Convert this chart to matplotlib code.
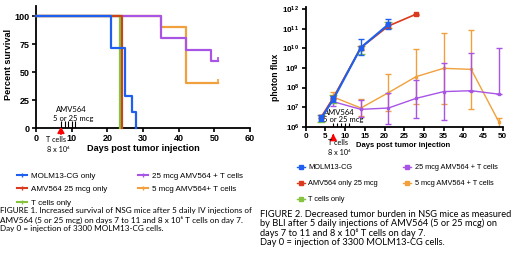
import matplotlib
matplotlib.use('Agg')
import matplotlib.pyplot as plt
from matplotlib.lines import Line2D
from matplotlib.ticker import NullLocator
from matplotlib.transforms import blended_transform_factory

plt.rcParams['font.family'] = ['Liberation Sans', 'DejaVu Sans']
plt.rcParams['mathtext.fontset'] = 'custom'
plt.rcParams['mathtext.rm'] = 'Liberation Sans'
plt.rcParams['mathtext.bf'] = 'Liberation Sans:bold'

# ---------------- Figure 1: survival data ----------------
surv_blue_days = [0, 21, 25, 27, 28]
surv_blue_pct = [100, 71.4, 28.6, 14.3, 0]
surv_red_days = [0, 24]
surv_red_pct = [100, 0]
surv_green_days = [0, 23.6]
surv_green_pct = [100, 0]
surv_purple_days = [0, 35, 42, 49, 51]
surv_purple_pct = [100, 80, 70, 60, 60]
surv_orange_days = [0, 35, 42, 51]
surv_orange_pct = [100, 90, 40, 40]
surv_xticks = [0, 10, 20, 30, 40, 50, 60]
surv_yticks = [0, 25, 50, 75, 100]

# ---------------- Figure 2: BLI data ----------------
bli_blue_days = [4, 7, 14, 21]
bli_blue = [2.8e6, 2.5e7, 1.1e10, 1.7e11]
bli_blue_lo = [1.9e6, 1.8e7, 4.6e9, 9.5e10]
bli_blue_hi = [4.0e6, 3.5e7, 3.0e10, 3.2e11]

bli_red_days = [4, 7, 14, 21, 28]
bli_red = [3.3e6, 3.0e7, 1.1e10, 1.4e11, 5.6e11]
bli_red_lo = [2.8e6, 2.5e7, 8.0e9, 1.1e11, 5.0e11]
bli_red_hi = [4.0e6, 3.6e7, 1.4e10, 1.8e11, 6.0e11]

bli_green_days = [4, 7, 14, 21]
bli_green = [2.6e6, 2.9e7, 1.1e10, 1.5e11]
bli_green_lo = [1.8e6, 1.6e7, 5.2e9, 1.1e11]
bli_green_hi = [3.8e6, 4.0e7, 1.4e10, 2.2e11]

bli_tx_days = [7, 14, 21, 28, 35, 42, 49]
bli_orange = [3.3e7, 9.0e6, 5.5e7, 3.6e8, 9.6e8, 8.5e8, 1.8e6]
bli_orange_lo = [1.8e7, 3.5e6, 6.0e6, 1.4e7, 1.5e7, 8.3e6, 8.0e5]
bli_orange_hi = [5.9e7, 2.5e7, 4.8e8, 9.4e9, 6.3e10, 8.7e10, 2.7e6]

bli_purple = [1.9e7, 7.7e6, 9.0e6, 2.8e7, 6.2e7, 6.9e7, 4.6e7]
bli_purple_lo = [1.2e7, 3.0e6, 1.4e6, 2.7e6, 2.2e6, 6.9e7, 4.6e7]
bli_purple_hi = [3.0e7, 2.3e7, 5.5e7, 2.5e8, 1.7e9, 6.0e9, 1.1e10]

bli_xticks = [0, 5, 10, 15, 20, 25, 30, 35, 40, 45, 50]
bli_yexp = [6, 7, 8, 9, 10, 11, 12]

injection_days = [7, 8, 9, 10, 11]
tcell_day = 7

surv_labels = ['MOLM13-CG only', 'AMV564 25 mcg only', 'T cells only',
               '25 mcg AMV564 + T cells', '5 mcg AMV564+ T cells']
bli_labels = ['MOLM13-CG', 'AMV564 only 25 mcg', 'T cells only',
              '25 mcg AMV564 + T cells', '5 mcg AMV564 + T cells']

cap1 = ['FIGURE 1. Increased survival of NSG mice after 5 daily IV injections of',
        'AMV564 (5 or 25 mcg) on days 7 to 11 and 8 x 10\u2076 T cells on day 7.',
        'Day 0 = injection of 3300 MOLM13-CG cells.']
cap2 = ['FIGURE 2. Decreased tumor burden in NSG mice as measured',
        'by BLI after 5 daily injections of AMV564 (5 or 25 mcg) on',
        'days 7 to 11 and 8 x 10\u2076 T cells on day 7.',
        'Day 0 = injection of 3300 MOLM13-CG cells.']

C_BLUE = '#1f5ff0'
C_RED = '#dc3a1e'
C_GREEN = '#86c440'
C_PURPLE = '#a855e6'
C_ORANGE = '#f0a03c'

W, H = 520, 256
fig = plt.figure(figsize=(5.2, 2.56), dpi=100)


def fx(x):
    return x / W


def fy(y):
    return 1 - y / H


CAPFONT = ['Lato', 'DejaVu Sans']

# ---------------- left axes ----------------
ax1 = fig.add_axes([fx(36), fy(128), (250 - 36) / W, (128 - 6) / H])
ax1.set_xlim(0, 60)
ax1.set_ylim(0, 109)
lw = 1.6
ax1.step(surv_orange_days, surv_orange_pct, where='post', color=C_ORANGE, lw=lw, clip_on=False, zorder=2)
ax1.step(surv_purple_days, surv_purple_pct, where='post', color=C_PURPLE, lw=lw, clip_on=False, zorder=3)
ax1.step(surv_green_days, surv_green_pct, where='post', color=C_GREEN, lw=lw, clip_on=False, zorder=4)
ax1.step(surv_red_days, surv_red_pct, where='post', color='#c8461a', lw=lw, clip_on=False, zorder=5)
ax1.step(surv_blue_days, surv_blue_pct, where='post', color=C_BLUE, lw=lw, clip_on=False, zorder=6)
ax1.plot(surv_purple_days[-1:], surv_purple_pct[-1:], marker=2, ms=3, mew=1.2, color=C_PURPLE, clip_on=False)
ax1.plot(surv_orange_days[-1:], surv_orange_pct[-1:], marker=2, ms=3, mew=1.2, color=C_ORANGE, clip_on=False)

ax1.set_xticks(surv_xticks)
ax1.set_yticks(surv_yticks)
for s in ['top', 'right']:
    ax1.spines[s].set_visible(False)
for s in ['left', 'bottom']:
    ax1.spines[s].set_linewidth(1.3)
ax1.tick_params(direction='out', length=3, width=1.2, labelsize=6.5, pad=1.5)
for t in ax1.get_xticklabels() + ax1.get_yticklabels():
    t.set_fontweight('bold')

ax1.vlines(injection_days, 0, 6, color='k', lw=0.8, zorder=7)
ax1.text(9.8, 16.5, 'AMV564', ha='center', va='center', fontsize=5.5, family=CAPFONT)
ax1.text(10.5, 8.3, '5 or 25 mcg', ha='center', va='center', fontsize=5.5, family=CAPFONT)
tr1 = blended_transform_factory(ax1.transData, ax1.transAxes)
ax1.annotate('', xy=(tcell_day, 4 / 122), xycoords=tr1,
             xytext=(tcell_day, -9 / 122), textcoords=tr1,
             arrowprops=dict(arrowstyle='-|>,head_length=0.35,head_width=0.2', color='red', lw=1.2),
             annotation_clip=False)

# ---------------- right axes ----------------
ax2 = fig.add_axes([fx(305.7), fy(126.7), (502.7 - 305.7) / W, (126.7 - 7.3) / H])
ax2.set_yscale('log')
ax2.set_xlim(0, 50)
ax2.set_ylim(1e6, 1.26e12)


def eb(days, v, lo, hi, color, lw_, z, ms=2.5, cs=2.2):
    yerr = [[a - b for a, b in zip(v, lo)], [b - a for a, b in zip(v, hi)]]
    ax2.errorbar(days, v, yerr=yerr, fmt='-s', color=color, lw=lw_, ms=ms,
                 elinewidth=1.0, capsize=cs, capthick=1.0, zorder=z)


eb(bli_tx_days, bli_orange, bli_orange_lo, bli_orange_hi, C_ORANGE, 1.0, 2, ms=1.8)
eb(bli_tx_days, bli_purple, bli_purple_lo, bli_purple_hi, C_PURPLE, 1.0, 3, ms=1.8)
eb(bli_green_days, bli_green, bli_green_lo, bli_green_hi, C_GREEN, 1.2, 4, ms=3, cs=3)
eb(bli_red_days, bli_red, bli_red_lo, bli_red_hi, C_RED, 1.2, 5)
eb(bli_blue_days, bli_blue, bli_blue_lo, bli_blue_hi, C_BLUE, 1.5, 6)

ax2.set_xticks(bli_xticks)
ax2.set_yticks([10.0 ** e for e in bli_yexp])
ax2.set_yticklabels([r'$\mathbf{10^{%d}}$' % e for e in bli_yexp])
ax2.yaxis.set_minor_locator(NullLocator())
for s in ['top', 'right']:
    ax2.spines[s].set_visible(False)
for s in ['left', 'bottom']:
    ax2.spines[s].set_linewidth(1.3)
ax2.tick_params(direction='out', length=3, width=1.2, labelsize=5.8, pad=1.5)
for t in ax2.get_xticklabels():
    t.set_fontweight('bold')

ax2.vlines(injection_days, 1e6, 1.5e6, color='k', lw=0.8, zorder=7)
ax2.text(8.4, 10 ** 6.75, 'AMV564', ha='center', va='center', fontsize=5.5, family=CAPFONT)
ax2.text(9.6, 10 ** 6.39, '5 or 25 mcg', ha='center', va='center', fontsize=5.5, family=CAPFONT)
tr2 = blended_transform_factory(ax2.transData, ax2.transAxes)
ax2.annotate('', xy=(tcell_day, -4.5 / 119.4), xycoords=tr2,
             xytext=(tcell_day, -12.5 / 119.4), textcoords=tr2,
             arrowprops=dict(arrowstyle='-|>,head_length=0.35,head_width=0.2', color='red', lw=1.2),
             annotation_clip=False)

# ---------------- labels ----------------
fig.text(fx(8.5), fy(64), 'Percent survival', rotation=90, ha='center', va='center', fontsize=6.6, fontweight='bold')
fig.text(fx(143), fy(148.5), 'Days post tumor injection', ha='center', va='center', fontsize=6.6, fontweight='bold')
fig.text(fx(275), fy(77), 'photon flux', rotation=90, ha='center', va='center', fontsize=6.2, fontweight='bold')
fig.text(fx(403), fy(145.5), 'Days post tumor injection', ha='center', va='center', fontsize=5.5, fontweight='bold')

fig.text(fx(56.5), fy(140), 'T cells', ha='center', va='center', fontsize=5.2, family=CAPFONT)
fig.text(fx(58.3), fy(149), '8 x 10\u2076', ha='center', va='center', fontsize=5.2, family=CAPFONT)
fig.text(fx(337.7), fy(142.8), 'T cells', ha='center', va='center', fontsize=5.2, family=CAPFONT)
fig.text(fx(339), fy(152.5), '8 x 10\u2076', ha='center', va='center', fontsize=5.2, family=CAPFONT)

# ---------------- legends ----------------
surv_colors = [C_BLUE, C_RED, C_GREEN, C_PURPLE, C_ORANGE]
h1 = [Line2D([], [], color=c, lw=1.5, marker='|', ms=3, mew=1) for c in surv_colors]
h2 = [Line2D([], [], color=c, lw=1.0, marker='s', ms=2.2) for c in surv_colors]

lkw1 = dict(frameon=False, borderpad=0, borderaxespad=0, handlelength=1.2,
            handletextpad=0.5, fontsize=5.75, labelspacing=0.75)
lkw2 = dict(frameon=False, borderpad=0, borderaxespad=0, handlelength=1.13,
            handletextpad=0.45, fontsize=5.3, labelspacing=1.2)
fig.legend(h1[:3], surv_labels[:3], loc='upper left', bbox_to_anchor=(fx(17.3), fy(172)), **lkw1)
fig.legend(h1[3:], surv_labels[3:], loc='upper left', bbox_to_anchor=(fx(138), fy(172)), **lkw1)
fig.legend(h2[:3], bli_labels[:3], loc='upper left', bbox_to_anchor=(fx(296.7), fy(164.3)), **lkw2)
fig.legend(h2[3:], bli_labels[3:], loc='upper left', bbox_to_anchor=(fx(403), fy(164.3)), **lkw2)

# ---------------- captions ----------------
for i, line in enumerate(cap1):
    fig.text(fx(0.5), fy(210.7 + 9 * i), line, ha='left', va='center', fontsize=5.9, family=CAPFONT)
for i, line in enumerate(cap2):
    fig.text(fx(260.5), fy(214.3 + 9.35 * i), line, ha='left', va='center', fontsize=6.7, family=CAPFONT)

fig.savefig('out.png', dpi=100)
